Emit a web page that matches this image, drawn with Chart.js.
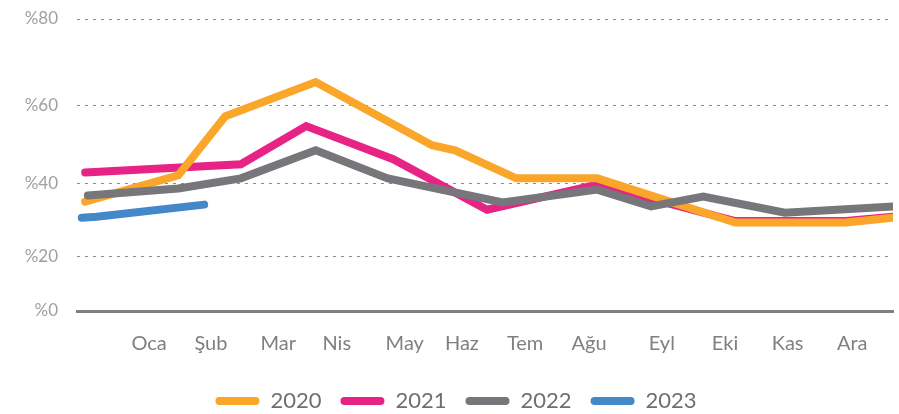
<!DOCTYPE html>
<html>
<head>
<meta charset="utf-8">
<script src="https://cdn.jsdelivr.net/npm/chart.js@4.4.1/dist/chart.umd.min.js"></script>
<style>
  html, body { margin: 0; padding: 0; background: #fff; }
</style>
</head>
<body>
<canvas id="chart" width="899" height="414"></canvas>
<script>
// month labels and where they sit on the x axis (in month units)
const monthLabels = ['Oca', 'Şub', 'Mar', 'Nis', 'May', 'Haz', 'Tem', 'Ağu', 'Eyl', 'Eki', 'Kas', 'Ara'];
const monthPos = [1.06, 1.97, 2.96, 3.82, 4.82, 5.66, 6.59, 7.53, 8.60, 9.53, 10.45, 11.40];

const yTicks = [0, 20, 40, 60, 80];

// series (x in month units, values in %)
const x2020 = [0.12, 1.49, 2.18, 3.51, 5.22, 5.56, 6.46, 7.65, 9.68, 11.31, 12.0];
const v2020 = [35.0, 42.1, 57.2, 65.4, 49.8, 48.5, 41.3, 41.3, 29.3, 29.3, 30.6];

const x2021 = [0.12, 2.41, 3.37, 4.65, 6.03, 7.65, 9.68, 11.31, 12.0];
const v2021 = [42.8, 44.9, 54.7, 46.2, 32.8, 39.7, 29.7, 29.7, 30.9];

const x2022 = [0.16, 1.49, 2.41, 3.51, 4.57, 6.26, 7.65, 8.44, 9.21, 10.41, 12.0];
const v2022 = [36.7, 38.6, 41.3, 48.5, 41.3, 34.8, 38.3, 33.7, 36.4, 32.0, 33.7];

const x2023 = [0.07, 0.29, 1.87];
const v2023 = [30.6, 30.9, 34.2];

// the original axis is not evenly spaced, so map values onto it piecewise
const axisStops = [0, 14.94, 34.95, 56.33, 80];
function warp(v) {
  for (let i = 1; i < yTicks.length; i++) {
    if (v <= yTicks[i]) {
      const t = (v - yTicks[i - 1]) / (yTicks[i] - yTicks[i - 1]);
      return axisStops[i - 1] + t * (axisStops[i] - axisStops[i - 1]);
    }
  }
  return axisStops[axisStops.length - 1];
}

function series(label, xs, vs, color, order) {
  return {
    label: label,
    data: xs.map((x, i) => ({ x: x, y: warp(vs[i]) })),
    borderColor: color,
    backgroundColor: color,
    borderWidth: 8,
    borderCapStyle: 'round',
    pointRadius: 0,
    tension: 0,
    order: order
  };
}

const font = 'Lato, "Open Sans", sans-serif';

new Chart(document.getElementById('chart'), {
  type: 'line',
  data: {
    datasets: [
      series('2020', x2020, v2020, '#F9A62A', 2),
      series('2021', x2021, v2021, '#E72385', 3),
      series('2022', x2022, v2022, '#77777B', 1),
      series('2023', x2023, v2023, '#4388C9', 0)
    ]
  },
  options: {
    responsive: false,
    animation: false,
    layout: { padding: { top: 19, right: 6, left: 19, bottom: -8 } },
    scales: {
      x: {
        type: 'linear',
        min: 0,
        max: 12,
        afterBuildTicks: s => { s.ticks = monthPos.map(v => ({ value: v })); },
        afterFit: s => { s.height = 60; },
        ticks: {
          autoSkip: false,
          maxRotation: 0,
          padding: 21,
          color: '#808080',
          font: { family: font, size: 20 },
          callback: (v, i) => monthLabels[i]
        },
        grid: { display: false, drawTicks: false },
        border: { display: true, color: '#808080', width: 3 }
      },
      y: {
        min: 0,
        max: 80,
        afterBuildTicks: s => { s.ticks = yTicks.map(v => ({ value: warp(v) })); },
        afterFit: s => { s.width = 58; },
        ticks: {
          padding: 0,
          color: '#a0a0a0',
          font: { family: font, size: 17 },
          callback: (v, i) => '%' + yTicks[i]
        },
        grid: {
          drawTicks: true,
          tickLength: 19,
          tickColor: 'rgba(0,0,0,0)',
          lineWidth: 1,
          color: ctx => ctx.index === 0 ? 'rgba(0,0,0,0)' : '#8c8c8c'
        },
        border: { display: false, dash: [3, 5] }
      }
    },
    plugins: {
      tooltip: { enabled: false },
      legend: {
        position: 'bottom',
        labels: {
          sort: (a, b) => a.datasetIndex - b.datasetIndex,
          boxWidth: 44,
          boxHeight: 8,
          useBorderRadius: true,
          borderRadius: 4,
          padding: 19,
          color: '#6f6f6f',
          font: { family: font, size: 22 },
          generateLabels: chart => Chart.defaults.plugins.legend.labels.generateLabels(chart)
            .map(l => Object.assign(l, { lineWidth: 0 }))
        }
      }
    }
  }
});
</script>
</body>
</html>
